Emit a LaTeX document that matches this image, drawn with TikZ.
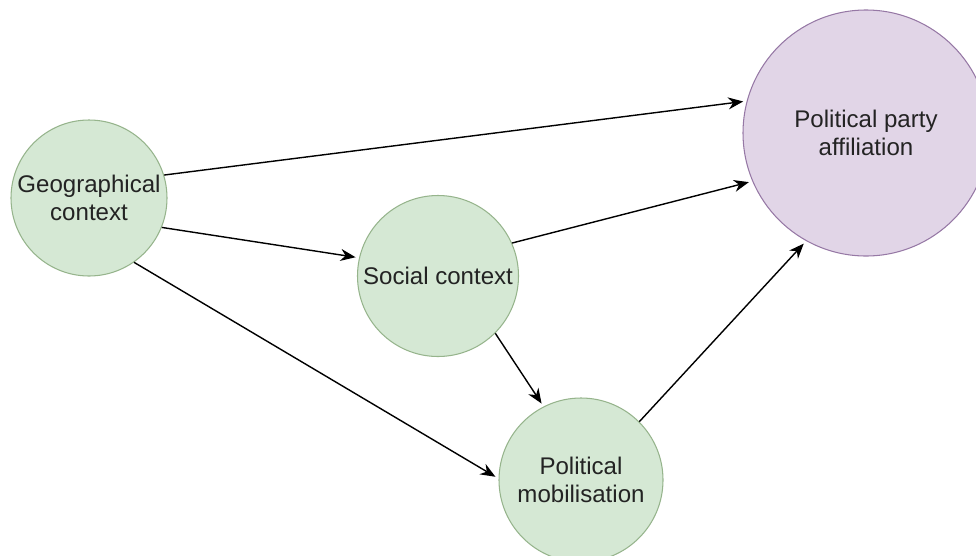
\documentclass[tikz,border=0pt]{standalone}
\usepackage{fontspec}
\setmainfont{Liberation Sans}
\usetikzlibrary{arrows.meta}
\usetikzlibrary{positioning}

\definecolor{greenfill}{RGB}{213,232,212}
\definecolor{greenline}{RGB}{150,180,140}
\definecolor{purplefill}{RGB}{225,213,231}
\definecolor{purpleline}{RGB}{150,120,165}
\definecolor{labeltext}{RGB}{35,35,35}

\tikzset{
    factor/.style={circle, draw=greenline, fill=greenfill, line width=0.6pt,
        align=center, text=labeltext, inner sep=0pt,
        font=\fontsize{13.7pt}{16pt}\selectfont},
    outcome/.style={factor, draw=purpleline, fill=purplefill},
    arr/.style={-{Stealth[length=3mm,width=2.4mm]}, line width=0.8pt, shorten >=2pt}
}

\begin{document}
\begin{tikzpicture}
        \useasboundingbox (0,0) rectangle (19.52,11.1);

        % Factors
        \node[factor, minimum size=3.12cm] (geo) at (1.78, 7.14) {Geographical\\context};
        \node[factor, minimum size=3.22cm] (social) at (8.76, 5.58) {Social context};
        \node[factor, minimum size=3.28cm] (mobil) at (11.62, 1.5) {Political\\mobilisation};

        % Outcome
        \node[outcome, minimum size=4.92cm] (party) at (17.32, 8.44) {Political party\\affiliation};

        % Paths between factors
        \foreach \s/\t in {geo.17/party.165, geo.-22/social.167, geo.-55/mobil.179,
                           social.24/party.203, social.-45/mobil.117, mobil.45/party.241} {
            \draw[arr] (\s) -- (\t);
        }

    \end{tikzpicture}
\end{document}
